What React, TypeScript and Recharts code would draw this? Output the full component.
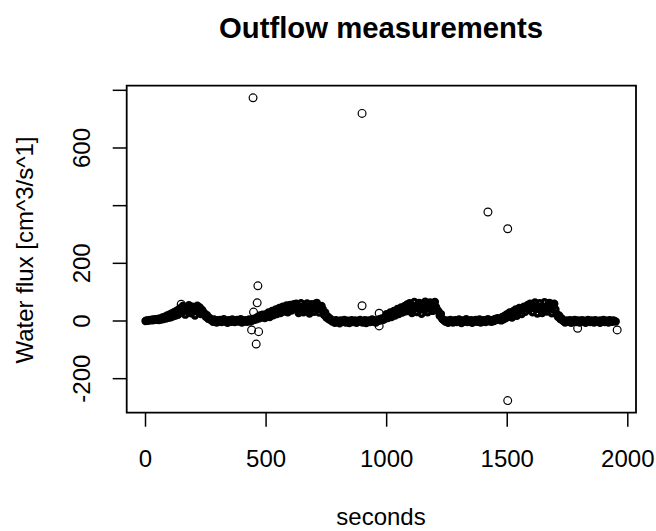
import { ReferenceArea, Scatter, ScatterChart, XAxis, YAxis } from "recharts";

const FONT = "'Liberation Sans', Arial, sans-serif";
const STEP = 5; // seconds between band readings

// flux readings [cm^3/s], one every 5 s, split by phase
const riseA = [0, 2, 1, 3, 4, 2, 5, 3, 6, 4, 7, 3, 9, 5, 12, 7, 15, 9, 19, 11, 23, 13, 27, 16, 31, 19, 36, 22, 42];
const topA = [44, 30, 52, 38, 22, 46, 33, 55, 41, 27, 50, 36, 19, 43, 53, 31, 47, 24, 38, 30];
const dropA = [26, 15, 20, 8, 11, 4];
const flatA = [2, -3, 5, 0, -5, 3, -1, 4, -4, 1, 6, -2, 0, -6, 3, 2, -3, 5, -1, -4, 1, 4, -2, 0, 6, -5, 2, -1, 3, -3, 0, 5, -2, 1, 7, 3, 9];
const riseB = [6, 14, 9, 19, 12, 22, 16, 10, 24, 18, 30, 14, 26, 35, 20, 31, 40, 24, 35, 45, 28, 40, 50, 33, 45, 54, 30, 42, 56, 36, 49, 58];
const topB = [44, 60, 38, 28, 50, 62, 40, 30, 54, 45, 61, 35, 26, 48, 58, 42, 32, 55, 63, 46, 29, 41, 52];
const dropB = [41, 22, 30, 12, 16, 6, 9, 2];
const flatB = [-2, 1, -6, 3, -4, 0, -8, 2, -3, -1, 4, -5, -2, 1, -7, 0, 3, -4, -1, 2, -6, -3, 1, 4, -2, -5, 0, 3, -7, -1, 2, -4, 0, 5, -3, 1, -5, 3, 0, 6, 2, 9, 4];
const riseC = [6, 15, 24, 10, 20, 30, 14, 26, 35, 19, 31, 42, 24, 36, 47, 29, 41, 52, 34, 57];
const topC = [46, 62, 38, 28, 52, 66, 44, 31, 56, 63, 40, 25, 48, 60, 67, 42, 30, 54, 64, 45, 35, 58, 66, 48, 38];
const dropC = [33, 18, 24, 8, 4, 1];
const flatC = [-3, 2, -6, 0, 4, -2, -5, 1, 3, -4, 0, 5, -1, -7, 2, -3, 1, 6, -4, 0, -2, 3, -6, 1, -1, 4, -3, 0, 5, -5, 2, -2, 3, -4, 1, 6, -1, 2, -3, 4, 0, 7, 3, 10, 5];
const riseD = [8, 2, 14, 6, 18, 10, 24, 15, 30, 20, 12, 34, 25, 40, 18, 30, 45, 36, 24, 42, 50, 32, 46, 56];
const topD = [40, 60, 44, 30, 52, 64, 42, 26, 50, 62, 36, 28, 50, 65, 45, 33, 56, 63, 40, 27, 49, 60];
const dropD = [40, 24, 15, 19, 7, 10, 2];
const flatD = [-1, -5, 2, -3, 0, 3, -6, 1, -2, 4, -4, 0, 2, -5, -1, 3, -3, 1, -6, 0, 4, -2, -4, 2, -1, -5, 3, 0, -3, 1, -6, 2, -2, 4, -4, 0, 1, -5, 3, -1, -3, 2, 0, -2];

// start second of each phase
const phases: [number, number[]][] = [
  [0, riseA], [145, topA], [245, dropA], [275, flatA],
  [460, riseB], [620, topB], [735, dropB], [775, flatB],
  [990, riseC], [1090, topC], [1215, dropC], [1245, flatC],
  [1470, riseD], [1590, topD], [1700, dropD], [1735, flatD],
];

// spikes away from the band
const spikeSeconds = [148, 440, 446, 448, 459, 463, 466, 469, 898, 898, 969, 969, 1420, 1502, 1502, 1792, 1956];
const spikeFlux = [58, -31, 774, 31, -80, 63, 122, -37, 720, 53, 27, -17, 378, 320, -276, -25, -31];

const xTicks = [0, 500, 1000, 1500, 2000];
const yTicks = [-200, 0, 200, 400, 600, 800];
const yShown = [-200, 0, 200, 600];

const band = phases.flatMap(([start, vals]) =>
  vals.map((v, i) => ({ s: start + i * STEP, v })),
);
const spikes = spikeSeconds.map((s, i) => ({ s, v: spikeFlux[i] }));

// the band is so dense in the original that the rings merge into solid ink
const bandRing = (p: any) => (
  <circle cx={p.cx} cy={p.cy} r={2.5} fill="none" stroke="#000" strokeWidth={3.4} />
);
const ring = (p: any) => (
  <circle cx={p.cx} cy={p.cy} r={3.9} fill="none" stroke="#000" strokeWidth={1.2} />
);

const XTick = (p: any) => (
  <text x={p.x} y={467} textAnchor="middle" fontFamily={FONT} fontSize={24} fill="#000">
    {p.payload.value}
  </text>
);

const YTick = (p: any) => {
  if (!yShown.includes(p.payload.value)) return <g />;
  return (
    <text
      x={90}
      y={p.y}
      transform={`rotate(-90 90 ${p.y})`}
      textAnchor="middle"
      fontFamily={FONT}
      fontSize={24}
      fill="#000"
    >
      {p.payload.value}
    </text>
  );
};

export default function App() {
  return (
    <div style={{ position: "absolute", left: 0, top: 0, width: 656, height: 531, background: "#fff" }}>
      <ScatterChart
        width={656}
        height={531}
        margin={{ top: 85.7, right: 20, bottom: 58.3, left: 26.7 }}
      >
        <XAxis
          dataKey="s"
          type="number"
          domain={[-78, 2034]}
          ticks={xTicks}
          allowDataOverflow
          height={60}
          axisLine={false}
          tickSize={14}
          tickLine={{ stroke: "#000", strokeWidth: 1.5 }}
          tick={XTick}
        />
        <YAxis
          dataKey="v"
          type="number"
          domain={[-318, 816]}
          ticks={yTicks}
          allowDataOverflow
          width={100}
          axisLine={false}
          tickSize={14}
          tickLine={{ stroke: "#000", strokeWidth: 1.5 }}
          tick={YTick}
        />
        <ReferenceArea
          x1={-78}
          x2={2034}
          y1={-318}
          y2={816}
          fill="none"
          stroke="#000"
          strokeWidth={1.8}
          fillOpacity={0}
          strokeOpacity={1}
        />
        <Scatter data={band} shape={bandRing} isAnimationActive={false} />
        <Scatter data={spikes} shape={ring} isAnimationActive={false} />
      </ScatterChart>
      <svg
        width={656}
        height={531}
        style={{ position: "absolute", left: 0, top: 0, pointerEvents: "none" }}
      >
        <text x={381} y={37.5} textAnchor="middle" fontFamily={FONT} fontSize={29.3} fontWeight="bold">
          Outflow measurements
        </text>
        <text x={381} y={524.5} textAnchor="middle" fontFamily={FONT} fontSize={24}>
          seconds
        </text>
        <text
          x={32.5}
          y={250}
          transform="rotate(-90 32.5 250)"
          textAnchor="middle"
          fontFamily={FONT}
          fontSize={24}
        >
          Water flux [cm^3/s^1]
        </text>
      </svg>
    </div>
  );
}
